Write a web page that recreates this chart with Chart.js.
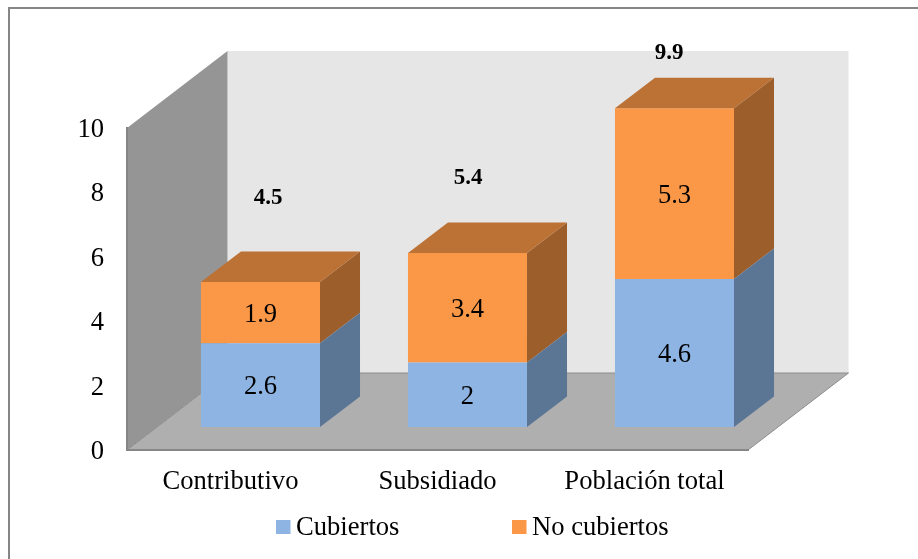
<!DOCTYPE html>
<html>
<head>
<meta charset="utf-8">
<style>
  html, body { margin: 0; padding: 0; background: #fff; }
  canvas { display: block; }
</style>
<script src="https://cdn.jsdelivr.net/npm/chart.js@4"></script>
</head>
<body>
<canvas id="chart" width="918" height="559"></canvas>
<script>
const categories = ['Contributivo', 'Subsidiado', 'Población total'];
const cubiertos = [2.6, 2, 4.6];
const noCubiertos = [1.9, 3.4, 5.3];
const totals = [4.5, 5.4, 9.9];

const SERIF = '"Liberation Serif", "Times New Roman", serif';
const TEXT_SIZE = 26.6;

// Oblique projection used for the box: room depth, bar depth and where bars sit inside the room.
const ROOM_DX = 100.5, ROOM_DY = -77;
const BAR_DX = 40, BAR_DY = -30.5;
const SHIFT_X = 30, SHIFT_Y = -23;

const faces = [
  { front: '#8DB4E2', side: '#5B7595', top: '#5B7595' },
  { front: '#FB9848', side: '#9C5E2B', top: '#BC7135' }
];

function poly(ctx, pts, fill, stroke, lw) {
  ctx.beginPath();
  pts.forEach((p, i) => (i ? ctx.lineTo(p[0], p[1]) : ctx.moveTo(p[0], p[1])));
  ctx.closePath();
  ctx.fillStyle = fill;
  ctx.fill();
  if (stroke) {
    ctx.strokeStyle = stroke;
    ctx.lineWidth = lw || 1;
    ctx.stroke();
  }
}

// Liberation Serif sits high on a middle baseline, so tick labels get nudged down.
function nudgeLabels(scale, dy) {
  if (scale.$nudged) return;
  scale.$nudged = true;
  const drawLabels = scale.drawLabels;
  scale.drawLabels = function (area) {
    this.ctx.save();
    this.ctx.translate(0, dy);
    drawLabels.call(this, area);
    this.ctx.restore();
  };
}

const box3d = {
  id: 'box3d',
  // Page frame, back wall, side wall and floor, placed behind the axes
  beforeDraw(chart) {
    const { ctx, chartArea: a } = chart;
    ctx.save();
    ctx.fillStyle = '#868686';
    ctx.fillRect(8, 7, 910, 2);
    ctx.fillRect(8, 7, 2, 552);
    const bx = ROOM_DX, by = ROOM_DY;
    poly(ctx, [[a.left + bx, a.top + by], [a.right + bx, a.top + by], [a.right + bx, a.bottom + by], [a.left + bx, a.bottom + by]], '#E6E6E6');
    poly(ctx, [[a.left, a.top], [a.left + bx, a.top + by], [a.left + bx, a.bottom + by], [a.left, a.bottom]], '#959595');
    poly(ctx, [[a.left, a.bottom], [a.right, a.bottom], [a.right + bx, a.bottom + by], [a.left + bx, a.bottom + by]], '#AFAFAF');
    ctx.strokeStyle = '#8C8C8C';
    ctx.lineWidth = 1;
    ctx.beginPath();
    ctx.moveTo(a.left + bx, a.bottom + by);
    ctx.lineTo(a.right + bx, a.bottom + by);
    ctx.lineTo(a.right, a.bottom);
    ctx.moveTo(a.left, a.bottom);
    ctx.lineTo(a.left + bx, a.bottom + by);
    ctx.stroke();
    ctx.restore();
  },
  // Bars stand in the middle of the floor, so each dataset is drawn shifted into the room
  beforeDatasetDraw(chart) {
    chart.ctx.save();
    chart.ctx.translate(SHIFT_X, SHIFT_Y);
  },
  afterDatasetDraw(chart, args) {
    const { ctx } = chart;
    const colours = faces[args.index];
    args.meta.data.forEach(bar => {
      const r = bar.x + bar.width / 2, l = bar.x - bar.width / 2;
      poly(ctx, [[r, bar.y], [r + BAR_DX, bar.y + BAR_DY], [r + BAR_DX, bar.base + BAR_DY], [r, bar.base]], colours.side);
      if (args.index === chart.data.datasets.length - 1) {
        poly(ctx, [[l, bar.y], [l + BAR_DX, bar.y + BAR_DY], [r + BAR_DX, bar.y + BAR_DY], [r, bar.y]], colours.top);
      }
    });
    ctx.restore();
  },
  // Value labels, totals and the legend row
  afterDatasetsDraw(chart) {
    const { ctx } = chart;
    ctx.save();
    ctx.textAlign = 'center';
    ctx.textBaseline = 'middle';
    ctx.fillStyle = '#000';
    ctx.font = TEXT_SIZE + 'px ' + SERIF;
    chart.data.datasets.forEach((ds, d) => {
      chart.getDatasetMeta(d).data.forEach((bar, i) => {
        ctx.fillText(String(ds.data[i]), bar.x + SHIFT_X, (bar.y + bar.base) / 2 + SHIFT_Y + 2);
      });
    });
    ctx.font = 'bold 23px ' + SERIF;
    const anchorX = [268, 468, 669], anchorY = [198, 178, 53];
    totals.forEach((t, i) => ctx.fillText(t.toFixed(1), anchorX[i], anchorY[i]));

    ctx.textAlign = 'left';
    ctx.font = TEXT_SIZE + 'px ' + SERIF;
    const legendX = [276, 512];
    chart.data.datasets.forEach((ds, d) => {
      ctx.fillStyle = ds.backgroundColor;
      ctx.fillRect(legendX[d], 520, 14.5, 14);
      ctx.fillStyle = '#000';
      ctx.fillText(ds.label, legendX[d] + 20, 528);
    });
    ctx.restore();
  }
};

new Chart(document.getElementById('chart'), {
  type: 'bar',
  data: {
    labels: categories,
    datasets: [
      { label: 'Cubiertos', data: cubiertos, backgroundColor: faces[0].front, clip: false, categoryPercentage: 1, barPercentage: 0.575 },
      { label: 'No cubiertos', data: noCubiertos, backgroundColor: faces[1].front, clip: false, categoryPercentage: 1, barPercentage: 0.575 }
    ]
  },
  options: {
    responsive: false,
    animation: false,
    layout: { padding: { left: 0, top: 128, right: 170, bottom: 0 } },
    plugins: { legend: { display: false }, tooltip: { enabled: false } },
    scales: {
      x: {
        stacked: true,
        afterFit(scale) { scale.height = 109; nudgeLabels(scale, 0); },
        grid: { display: false, drawTicks: false },
        border: { display: true, color: '#868686', width: 2 },
        ticks: { color: '#000', padding: 16, maxRotation: 0, font: { family: SERIF, size: TEXT_SIZE } }
      },
      y: {
        stacked: true,
        min: 0,
        max: 10,
        afterFit(scale) { scale.width = 127; nudgeLabels(scale, 2); },
        grid: { display: false, drawTicks: false },
        border: { display: true, color: '#868686', width: 2 },
        ticks: { color: '#000', padding: 23, stepSize: 2, font: { family: SERIF, size: TEXT_SIZE } }
      }
    }
  },
  plugins: [box3d]
});
</script>
</body>
</html>
